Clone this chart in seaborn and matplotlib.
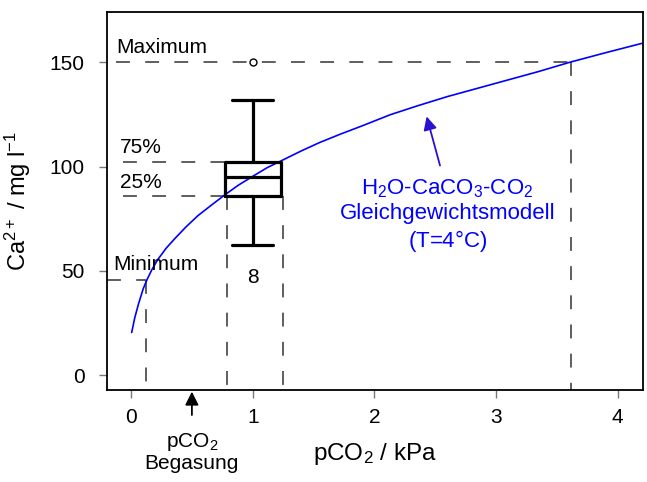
import numpy as np
import pandas as pd
import matplotlib
matplotlib.use("Agg")
import matplotlib.pyplot as plt
import seaborn as sns

# Gleichgewichtsmodell
pco2_model = [0.005, 0.03, 0.06, 0.10, 0.13, 0.17, 0.22, 0.29, 0.36, 0.45,
              0.55, 0.66, 0.77, 0.88, 1.0, 1.12, 1.25, 1.4, 1.55, 1.72,
              1.9, 2.13, 2.35, 2.6, 2.85, 3.1, 3.35, 3.61, 3.9, 4.2]
ca_model = [20.5, 27.5, 34, 41.5, 45.7, 50.5, 55.5, 61, 65.5, 71,
            76.5, 81.5, 86.4, 91, 95.3, 99.5, 103.2, 107.5, 111.5, 115.5,
            119.5, 124.8, 129, 133.5, 137.5, 141.5, 145.5, 150, 154.5, 159]

# Messwerte Ca2+ (Boxplot bei pCO2 = 1 kPa)
ca_samples = [62.5, 80, 86, 90, 95.2, 99, 102.4, 132, 150]
pco2_samples = [1.0] * len(ca_samples)

# Referenzwerte für Hilfslinien
ca_min, ca_q1, ca_q3, ca_max = 45.7, 86, 102.4, 150
pco2_min, pco2_q1, pco2_q3, pco2_max = 0.125, 0.79, 1.25, 3.62
n_label = "8"
pco2_gas = 0.5

sns.set_theme(style="ticks", rc={"text.color": "black", "axes.labelcolor": "black",
                                 "xtick.labelcolor": "black", "ytick.labelcolor": "black"})
plt.rcParams["font.family"] = ["Liberation Sans", "DejaVu Sans"]
plt.rcParams["mathtext.fontset"] = "custom"
plt.rcParams["mathtext.rm"] = "Liberation Sans"
plt.rcParams["mathtext.it"] = "Liberation Sans:italic"
plt.rcParams["mathtext.default"] = "regular"
plt.rcParams["lines.scale_dashes"] = False

fig = plt.figure(figsize=(6.47, 4.82), dpi=100)
ax = fig.add_axes([0.165, 0.191, 0.829, 0.784])

dash = (0, (10, 11))
dcol = "#333333"
lw_d = 1.1

# Hilfslinien
ax.plot([-0.12, pco2_max], [ca_max, ca_max], ls=dash, color=dcol, lw=lw_d)
ax.plot([pco2_max, pco2_max], [ca_max, -7], ls=dash, color=dcol, lw=lw_d)
ax.plot([-0.2, pco2_min], [ca_min, ca_min], ls=dash, color=dcol, lw=lw_d)
ax.plot([pco2_min, pco2_min], [ca_min, -7], ls=dash, color=dcol, lw=lw_d)
ax.plot([-0.07, pco2_q1], [ca_q3, ca_q3], ls=dash, color=dcol, lw=lw_d)
ax.plot([-0.07, pco2_q1], [ca_q1, ca_q1], ls=dash, color=dcol, lw=lw_d)
ax.plot([pco2_q1, pco2_q1], [ca_q1, -7], ls=dash, color=dcol, lw=lw_d)
ax.plot([pco2_q3, pco2_q3], [ca_q1, -7], ls=dash, color=dcol, lw=lw_d)

# Modellkurve
sns.lineplot(x=pco2_model, y=ca_model, color="#0000ff", lw=1.2, ax=ax)

# Boxplot
n_before = len(ax.lines)
sns.boxplot(x=pco2_samples, y=ca_samples, native_scale=True, orient="x",
            width=0.46, whis=2.0, fill=False, color="black", linewidth=2.3,
            flierprops=dict(marker="o", markersize=5, markerfacecolor="white",
                            markeredgecolor="black", markeredgewidth=1.0),
            ax=ax)
# breitere Whisker-Kappen
for ln in ax.lines[n_before:]:
    xd, yd = np.asarray(ln.get_xdata(), float), np.asarray(ln.get_ydata(), float)
    if len(xd) == 2 and yd[0] == yd[1] and yd[0] in (min(ca_samples[:-1]), max(ca_samples[:-1])):
        ln.set_xdata([0.83, 1.17])

ax.set_xlim(-0.2, 4.21)
ax.set_ylim(-7, 174)
ax.set_xticks([0, 1, 2, 3, 4])
ax.set_yticks([0, 50, 100, 150])
ax.tick_params(axis="both", labelsize=15, length=6, width=1, color="#777777")
ax.tick_params(axis="y", pad=10)
ax.tick_params(axis="x", pad=7)
for s in ax.spines.values():
    s.set_visible(True)
    s.set_linewidth(1.3)
    s.set_color("black")

ax.set_xlabel("pCO$_2$ / kPa", fontsize=17.5, labelpad=10)
ax.set_ylabel("Ca$^{2+}$ / mg l$^{-1}$", fontsize=17, labelpad=12)

# Beschriftungen
ax.text(-0.12, 152.5, "Maximum", fontsize=15, ha="left", va="bottom")
ax.text(-0.09, 104.5, "75%", fontsize=15, ha="left", va="bottom")
ax.text(-0.09, 88, "25%", fontsize=15, ha="left", va="bottom")
ax.text(-0.15, 48.5, "Minimum", fontsize=15, ha="left", va="bottom")
ax.text(1.0, 47, n_label, fontsize=15, ha="center", va="center")

ax.text(2.6, 95, "H$_2$O-CaCO$_3$-CO$_2$\nGleichgewichtsmodell\n(T=4$\\degree$C)",
        color="#0000ff", fontsize=16, ha="center", va="top", linespacing=1.2)
ax.annotate("", xy=(2.43, 124), xytext=(2.54, 100.5),
            arrowprops=dict(arrowstyle="-|>", color="#2a10d0", lw=1.3,
                            mutation_scale=20, shrinkA=0, shrinkB=0))

# Begasung
ax.annotate("", xy=(pco2_gas, -7.8), xytext=(pco2_gas, -19),
            arrowprops=dict(arrowstyle="-|>", color="black", lw=1.3,
                            mutation_scale=20, shrinkA=0, shrinkB=0),
            annotation_clip=False)
ax.text(pco2_gas, -26.5, "pCO$_2$\nBegasung", fontsize=15, ha="center", va="top",
        linespacing=1.1, clip_on=False)

fig.savefig("out.png", dpi=100)
